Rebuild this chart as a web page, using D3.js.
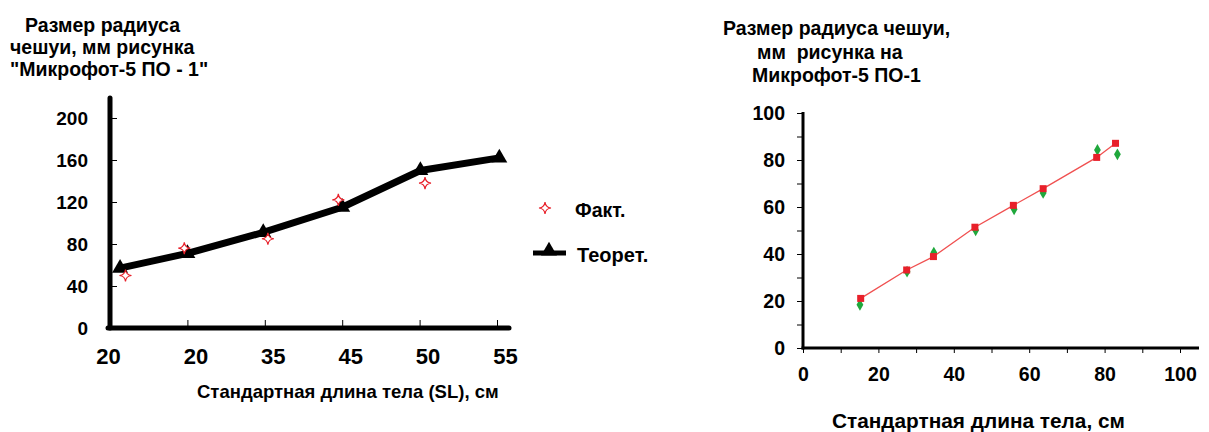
<!DOCTYPE html>
<html>
<head>
<meta charset="utf-8">
<script src="https://cdn.jsdelivr.net/npm/d3@7"></script>
<style>
  body { margin: 0; background: #fff; }
  text { font-family: "Liberation Sans", Arial, sans-serif; font-weight: bold; fill: #000; }
  .narrow { font-family: "Liberation Sans Narrow", "Arial Narrow", "Liberation Sans", sans-serif; }
</style>
</head>
<body>
<svg id="chart" width="1209" height="432"></svg>
<script>
// left chart: categories and series
const leftCats = ["20", "20", "35", "45", "50", "55"];
const theorPos = [0.13, 1, 1.98, 3, 4.01, 5.03];
const theorVals = [57, 71, 91, 115, 150, 162];
const factPos = [0.2, 0.96, 2.04, 2.95, 4.07];
const factVals = [50, 76, 85, 122, 138];
const leftYTicks = [0, 40, 80, 120, 160, 200];

// right chart: two series
const redX = [15.3, 27.5, 34.6, 45.6, 55.8, 63.7, 77.9, 82.9];
const redY = [21.1, 33.2, 38.9, 51.4, 60.7, 67.8, 81.1, 87.1];
const greenX = [15.1, 27.6, 34.7, 45.8, 56, 63.7, 78.1, 83.4];
const greenY = [18.4, 32.5, 40.6, 50.1, 59, 66, 84.3, 82.4];
const rightTicks = [0, 20, 40, 60, 80, 100];

const svg = d3.select('#chart');

// four-point star outline
function sparkle(r) {
  const k = r * 0.3;
  return `M0,${-r} Q${k*0.3},${-k*0.3} ${r},0 Q${k*0.3},${k*0.3} 0,${r} Q${-k*0.3},${k*0.3} ${-r},0 Q${-k*0.3},${-k*0.3} 0,${-r}Z`;
}

// ---------- left chart ----------
const xL = d3.scaleLinear().domain([0, 5]).range([110, 497]);
const yL = d3.scaleLinear().domain([0, 200]).range([328, 118]);

const leftTitle = ["Размер радиуса", "чешуи, мм рисунка", "\"Микрофот-5 ПО - 1\""];
svg.append('g').selectAll('text')
  .data(leftTitle)
  .join('text')
    .attr('x', (d, i) => i === 0 ? 25 : 10)
    .attr('y', (d, i) => 32 + i * 22)
    .style('font-size', '19.5px')
    .text(d => d);

const yAxisL = svg.append('g')
  .attr('transform', 'translate(110,0)')
  .call(d3.axisLeft(yL).tickValues(leftYTicks).tickSize(-7).tickPadding(22).tickSizeOuter(0));
yAxisL.select('.domain').remove();
yAxisL.selectAll('.tick line').attr('stroke', '#000').attr('stroke-width', 1);
yAxisL.selectAll('.tick').filter(d => d === 0).select('line').remove();
yAxisL.selectAll('text').style('font-size', '19px').style('font-family', null);

const xAxisL = svg.append('g')
  .attr('transform', 'translate(0,328)')
  .call(d3.axisBottom(xL).tickValues(d3.range(leftCats.length)).tickFormat(i => leftCats[i])
    .tickSize(-8).tickPadding(20).tickSizeOuter(0));
xAxisL.select('.domain').remove();
xAxisL.selectAll('.tick line').attr('stroke', '#000').attr('stroke-width', 1);
xAxisL.selectAll('.tick').filter(d => d === 0).select('line').remove();
xAxisL.selectAll('text')
  .attr('class', 'narrow')
  .attr('dx', d => d === 0 ? -2 : 8)
  .style('font-size', '22px').style('font-family', null);

svg.append('line')
  .attr('x1', 110).attr('y1', 98).attr('x2', 110).attr('y2', 328)
  .attr('stroke', '#000').attr('stroke-width', 5).attr('stroke-linecap', 'round');
svg.append('line')
  .attr('x1', 108).attr('y1', 328).attr('x2', 509).attr('y2', 328)
  .attr('stroke', '#000').attr('stroke-width', 5).attr('stroke-linecap', 'round');

const theor = theorVals.map((v, i) => ({ x: theorPos[i], y: v }));
svg.append('path')
  .datum(theor)
  .attr('fill', 'none')
  .attr('stroke', '#000')
  .attr('stroke-width', 7)
  .attr('stroke-linejoin', 'round')
  .attr('d', d3.line().x(d => xL(d.x)).y(d => yL(d.y)));

const tri = d3.symbol().type(d3.symbolTriangle).size(110);
svg.append('g').selectAll('path')
  .data(theor)
  .join('path')
    .attr('transform', d => `translate(${xL(d.x)},${yL(d.y)})`)
    .attr('d', tri)
    .attr('fill', '#000');

const fact = factVals.map((v, i) => ({ x: factPos[i], y: v }));
svg.append('g').selectAll('path')
  .data(fact)
  .join('path')
    .attr('transform', d => `translate(${xL(d.x)},${yL(d.y)})`)
    .attr('d', sparkle(6))
    .attr('fill', '#fff')
    .attr('stroke', '#e8202a')
    .attr('stroke-width', 1.2);

svg.append('text')
  .attr('x', 197).attr('y', 398)
  .style('font-size', '18.5px')
  .text('Стандартная длина тела (SL), см');

// legend
svg.append('path')
  .attr('transform', 'translate(545,208)')
  .attr('d', sparkle(6))
  .attr('fill', '#fff').attr('stroke', '#e8202a').attr('stroke-width', 1.2);
svg.append('text').attr('x', 575).attr('y', 217).style('font-size', '19.5px').text('Факт.');
svg.append('line')
  .attr('x1', 533).attr('y1', 253).attr('x2', 566).attr('y2', 253)
  .attr('stroke', '#000').attr('stroke-width', 5);
svg.append('path').attr('transform', 'translate(549,251)').attr('d', tri).attr('fill', '#000');
svg.append('text').attr('x', 577).attr('y', 262).style('font-size', '20px').text('Теорет.');

// ---------- right chart ----------
const xR = d3.scaleLinear().domain([0, 100]).range([803, 1180]);
const yR = d3.scaleLinear().domain([0, 100]).range([348, 113]);

const rightTitle = [
  { t: "Размер радиуса чешуи,", x: 723 },
  { t: "мм  рисунка на", x: 757 },
  { t: "Микрофот-5 ПО-1", x: 752 }
];
svg.append('g').selectAll('text')
  .data(rightTitle)
  .join('text')
    .attr('x', d => d.x)
    .attr('y', (d, i) => 35 + i * 23.5)
    .style('font-size', '19.5px')
    .style('white-space', 'pre')
    .text(d => d.t);

const yAxisR = svg.append('g')
  .attr('transform', 'translate(803,0)')
  .call(d3.axisLeft(yR).tickValues(d3.range(0, 101, 10)).tickSize(6).tickPadding(12)
    .tickFormat(d => d % 20 === 0 ? d : '').tickSizeOuter(0));
yAxisR.select('.domain').remove();
yAxisR.selectAll('.tick line').attr('stroke', '#000');
yAxisR.selectAll('text').style('font-size', '19.5px').style('font-family', null);

const xAxisR = svg.append('g')
  .attr('transform', 'translate(0,348)')
  .call(d3.axisBottom(xR).tickValues(d3.range(0, 101, 10)).tickSize(5).tickPadding(14)
    .tickFormat(d => d % 20 === 0 ? d : '').tickSizeOuter(0));
xAxisR.select('.domain').remove();
xAxisR.selectAll('.tick line').attr('stroke', '#000');
xAxisR.selectAll('text').style('font-size', '19.5px').style('font-family', null);

svg.append('line')
  .attr('x1', 803).attr('y1', 112).attr('x2', 803).attr('y2', 349.5)
  .attr('stroke', '#000').attr('stroke-width', 3);
svg.append('line')
  .attr('x1', 801.5).attr('y1', 348).attr('x2', 1199).attr('y2', 348)
  .attr('stroke', '#000').attr('stroke-width', 3);

const red = redX.map((x, i) => ({ x, y: redY[i] }));
const green = greenX.map((x, i) => ({ x, y: greenY[i] }));

svg.append('path')
  .datum(red)
  .attr('fill', 'none')
  .attr('stroke', '#f05050')
  .attr('stroke-width', 1.3)
  .attr('d', d3.line().x(d => xR(d.x)).y(d => yR(d.y)));

svg.append('g').selectAll('path')
  .data(green)
  .join('path')
    .attr('transform', d => `translate(${xR(d.x)},${yR(d.y)})`)
    .attr('d', d3.symbol().type(d3.symbolDiamond).size(40))
    .attr('fill', '#1fa83c');

svg.append('g').selectAll('rect')
  .data(red)
  .join('rect')
    .attr('x', d => xR(d.x) - 3.5)
    .attr('y', d => yR(d.y) - 3.5)
    .attr('width', 7).attr('height', 7)
    .attr('fill', '#e8202a');

svg.append('text')
  .attr('x', 832).attr('y', 428)
  .style('font-size', '20.8px')
  .text('Стандартная длина тела, см');
</script>
</body>
</html>
